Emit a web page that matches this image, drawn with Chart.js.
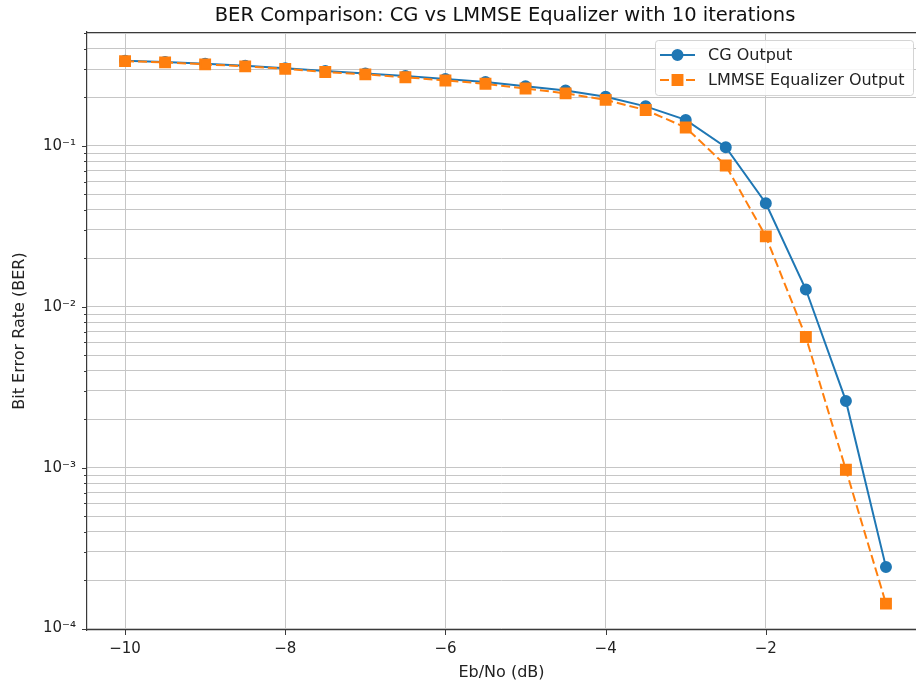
<!DOCTYPE html>
<html>
<head>
<meta charset="utf-8">
<script src="https://cdn.jsdelivr.net/npm/chart.js@4.4.0/dist/chart.umd.min.js"></script>
<style>
  body { margin: 0; background: #fff; }
  #wrap { width: 916px; height: 688px; }
</style>
</head>
<body>
<div id="wrap"><canvas id="berChart" width="916" height="688"></canvas></div>
<script>
const ebno = [-10, -9.5, -9, -8.5, -8, -7.5, -7, -6.5, -6, -5.5, -5, -4.5, -4, -3.5, -3, -2.5, -2, -1.5, -1, -0.5];
const berCG = [0.338, 0.332, 0.324, 0.315, 0.304, 0.292, 0.282, 0.272, 0.260, 0.249, 0.235, 0.221, 0.202, 0.176, 0.145, 0.098, 0.044, 0.0128, 0.0026, 0.000241];
const berLMMSE = [0.336, 0.330, 0.321, 0.312, 0.301, 0.288, 0.278, 0.267, 0.255, 0.243, 0.227, 0.212, 0.193, 0.167, 0.130, 0.0755, 0.0274, 0.00649, 0.00097, 0.000143];
const seriesNames = ['CG Output', 'LMMSE Equalizer Output'];
const xTickValues = [-10, -8, -6, -4, -2];
const yDecades = [1e-4, 1e-3, 1e-2, 1e-1];
const yDecadeLabels = ['10\u207B\u2074', '10\u207B\u00B3', '10\u207B\u00B2', '10\u207B\u00B9'];

const FONT = "'DejaVu Sans', sans-serif";
const GRID = '#c6c6c6';
const AXIS = '#3a3a3a';

const toPoints = (ys) => ebno.map((x, i) => ({ x: x, y: ys[i] }));

// frame top line, tick marks, title and an in-axes legend like matplotlib's
const overlay = {
  id: 'overlay',
  afterDraw(chart) {
    const { ctx, chartArea: a, scales } = chart;
    ctx.save();
    ctx.strokeStyle = AXIS;
    ctx.lineWidth = 1.2;
    ctx.beginPath();
    ctx.moveTo(a.left, a.top + 0.5);
    ctx.lineTo(a.right, a.top + 0.5);
    ctx.stroke();

    // tick marks
    ctx.lineWidth = 1;
    scales.y.ticks.forEach(t => {
      const py = Math.round(scales.y.getPixelForValue(t.value)) + 0.5;
      const len = yDecades.includes(t.value) ? 5 : 3;
      ctx.beginPath();
      ctx.moveTo(a.left - len, py);
      ctx.lineTo(a.left, py);
      ctx.stroke();
    });
    scales.x.ticks.forEach(t => {
      const px = Math.round(scales.x.getPixelForValue(t.value)) + 0.5;
      ctx.beginPath();
      ctx.moveTo(px, a.bottom);
      ctx.lineTo(px, a.bottom + 5);
      ctx.stroke();
    });

    // title, centred over the axes
    ctx.fillStyle = '#111';
    ctx.font = '19.5px ' + FONT;
    ctx.textAlign = 'center';
    ctx.textBaseline = 'middle';
    ctx.fillText('BER Comparison: CG vs LMMSE Equalizer with 10 iterations', 505, 16);

    // legend
    const bx = 655, by = 40, bw = 258, bh = 55;
    ctx.fillStyle = 'rgba(255,255,255,0.85)';
    ctx.strokeStyle = '#d4d4d4';
    ctx.lineWidth = 1;
    ctx.beginPath();
    ctx.roundRect(bx + 0.5, by + 0.5, bw, bh, 3);
    ctx.fill();
    ctx.stroke();
    ctx.font = '16px ' + FONT;
    ctx.textAlign = 'left';
    chart.data.datasets.forEach((ds, i) => {
      const ry = by + 15 + i * 25;
      ctx.strokeStyle = ds.borderColor;
      ctx.lineWidth = ds.borderWidth;
      ctx.setLineDash(ds.borderDash || []);
      ctx.beginPath();
      ctx.moveTo(bx + 5, ry);
      ctx.lineTo(bx + 40, ry);
      ctx.stroke();
      ctx.setLineDash([]);
      ctx.fillStyle = ds.pointBackgroundColor;
      ctx.strokeStyle = ds.pointBorderColor;
      Chart.helpers.drawPoint(ctx, { pointStyle: ds.pointStyle, radius: ds.pointRadius, rotation: 0, borderWidth: 1 }, bx + 22.5, ry);
      ctx.fillStyle = '#222';
      ctx.fillText(ds.label, bx + 53, ry + 1);
    });
    ctx.restore();
  }
};

new Chart(document.getElementById('berChart'), {
  type: 'line',
  data: {
    datasets: [
      {
        label: seriesNames[0],
        data: toPoints(berCG),
        borderColor: '#1f77b4',
        backgroundColor: '#1f77b4',
        pointBackgroundColor: '#1f77b4',
        pointBorderColor: '#1f77b4',
        borderWidth: 2,
        pointStyle: 'circle',
        pointRadius: 5,
        order: 2
      },
      {
        label: seriesNames[1],
        data: toPoints(berLMMSE),
        borderColor: '#ff7f0e',
        backgroundColor: '#ff7f0e',
        pointBackgroundColor: '#ff7f0e',
        pointBorderColor: '#ff7f0e',
        borderWidth: 2,
        borderDash: [9, 4],
        pointStyle: 'rect',
        pointRadius: 7,
        order: 1
      }
    ]
  },
  options: {
    responsive: false,
    animation: false,
    layout: { autoPadding: false, padding: { top: 32, left: 0, right: 0, bottom: 0 } },
    plugins: {
      legend: { display: false },
      title: { display: false },
      tooltip: { enabled: false }
    },
    elements: { line: { tension: 0 } },
    scales: {
      x: {
        type: 'linear',
        min: -10.475,
        max: -0.125,
        afterBuildTicks: (s) => { s.ticks = xTickValues.map(v => ({ value: v })); },
        afterFit: (s) => { s.height = 58; s.paddingLeft = 0; s.paddingRight = 0; },
        ticks: {
          autoSkip: false,
          maxRotation: 0,
          padding: 10,
          color: '#222',
          font: { family: FONT, size: 15 },
          callback: (v) => String(v).replace('-', '\u2212')
        },
        grid: { color: GRID, lineWidth: 1, drawTicks: false },
        border: { display: true, color: AXIS, width: 1.2 },
        title: {
          display: true,
          text: 'Eb/No (dB)',
          color: '#222',
          font: { family: FONT, size: 16 },
          padding: { top: 0, bottom: 6 }
        }
      },
      y: {
        type: 'logarithmic',
        min: 9.8e-5,
        max: 0.51,
        afterBuildTicks: (s) => {
          const t = [];
          yDecades.forEach(d => {
            for (let m = 1; m <= 9; m++) {
              const v = +(m * d).toPrecision(3);
              if (v >= s.min && v <= s.max) t.push({ value: v });
            }
          });
          s.ticks = t;
        },
        afterFit: (s) => { s.width = 87; s.paddingTop = 0; s.paddingBottom = 0; },
        ticks: {
          autoSkip: false,
          padding: 11,
          color: '#222',
          font: { family: FONT, size: 15 },
          callback: (v) => {
            const k = yDecades.indexOf(v);
            return k >= 0 ? yDecadeLabels[k] : '';
          }
        },
        grid: { color: GRID, lineWidth: 1, drawTicks: false },
        border: { display: true, color: AXIS, width: 1.2 },
        title: {
          display: true,
          text: 'Bit Error Rate (BER)',
          color: '#222',
          font: { family: FONT, size: 16 },
          padding: { top: 10, bottom: 0 }
        }
      }
    }
  },
  plugins: [overlay]
});
</script>
</body>
</html>
